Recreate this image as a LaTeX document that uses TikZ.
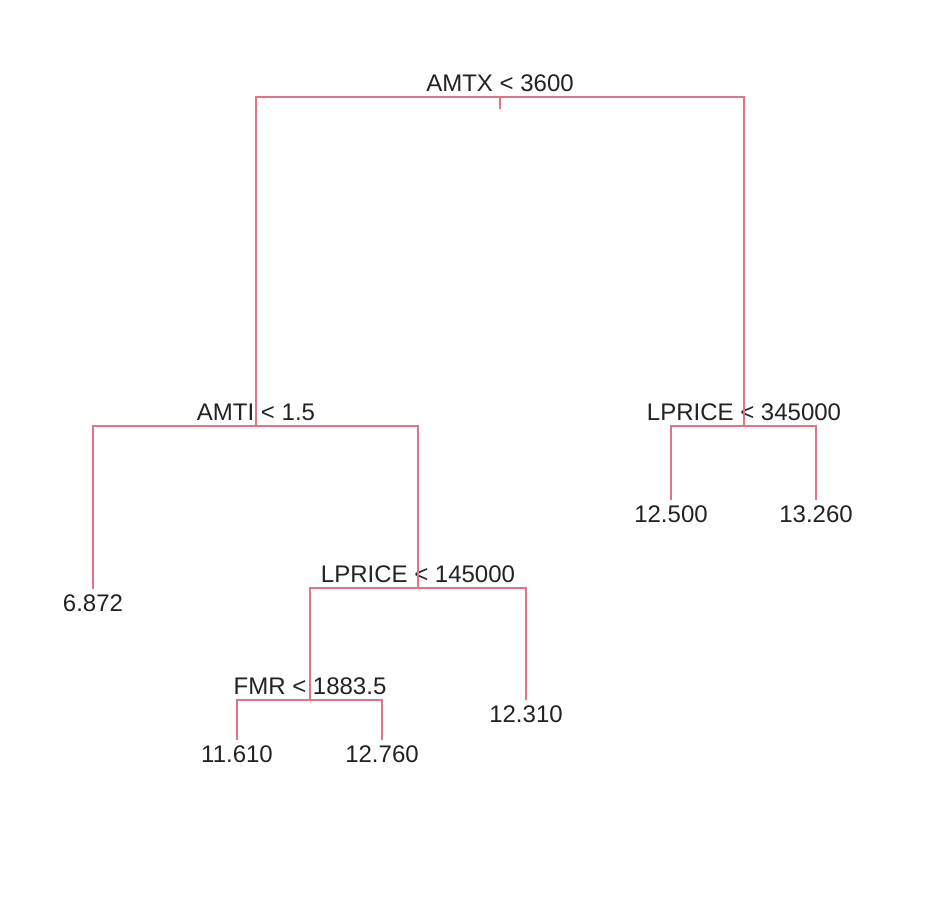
\documentclass[tikz,border=0pt]{standalone}
\usepackage{fontspec}
\setmainfont{Liberation Sans}
\usepackage{xcolor}
\usepackage{tikz}
\definecolor{trInk}{HTML}{222222}
\definecolor{trRed}{HTML}{E07586}
\tikzset{
  split/.style ={anchor=south, inner sep=2.5pt, font=\fontsize{12}{14}\selectfont, text=trInk},
  leaf/.style  ={anchor=north, inner sep=2.5pt, font=\fontsize{12}{14}\selectfont, text=trInk},
  branch/.style={draw=trRed, line width=1.2pt},
}
\begin{document}
\begin{tikzpicture}[x=0.5pt, y=-0.5pt]
\useasboundingbox (0,0) rectangle (940,898);

% ---- split labels (south anchor = junction) ----
\node[split] (s1) at (500,97)  {AMTX < 3600};
\node[split] (s2) at (256,426) {AMTI < 1.5};
\node[split] (s3) at (744,426) {LPRICE < 345000};
\node[split] (s4) at (418,588) {LPRICE < 145000};
\node[split] (s5) at (310,700) {FMR < 1883.5};
\coordinate (stub) at (500,109);

% ---- leaf values (north anchor = end of branch) ----
\node[leaf] (l1) at (93,589)  {6.872};
\node[leaf] (l2) at (671,500) {12.500};
\node[leaf] (l3) at (816,500) {13.260};
\node[leaf] (l4) at (526,700) {12.310};
\node[leaf] (l5) at (237,740) {11.610};
\node[leaf] (l6) at (382,740) {12.760};

% ---- branches ----
\draw[branch] (s1.south) -- (stub);
\draw[branch] (s2.south) |- (s1.south) -| (s3.south);
\draw[branch] (l1.north) |- (s2.south) -| (s4.south);
\draw[branch] (l2.north) |- (s3.south) -| (l3.north);
\draw[branch] (s5.south) |- (s4.south) -| (l4.north);
\draw[branch] (l5.north) |- (s5.south) -| (l6.north);
\end{tikzpicture}
\end{document}
